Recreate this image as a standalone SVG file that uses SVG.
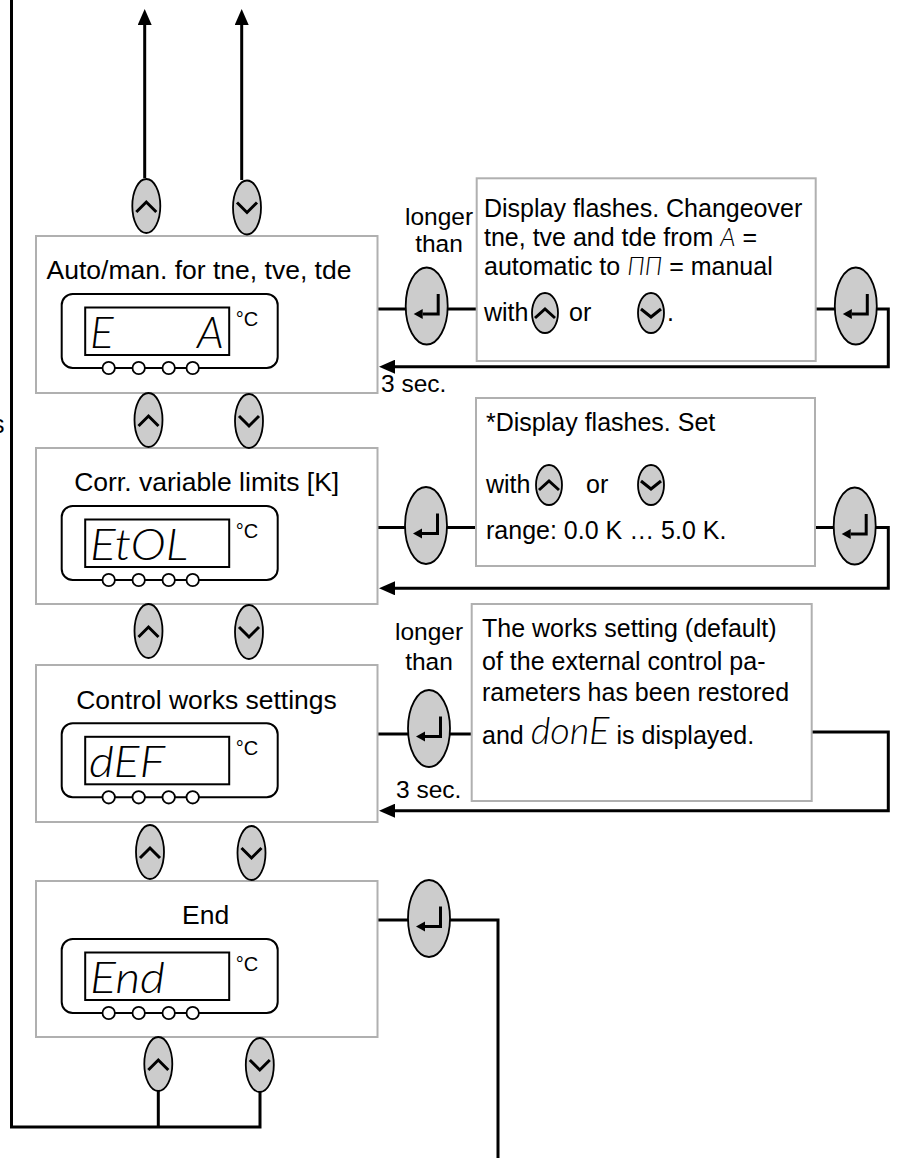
<svg xmlns="http://www.w3.org/2000/svg" width="922" height="1158" viewBox="0 0 922 1158">
<style>
.box{fill:#fff;stroke:#b0b0b0;stroke-width:2}
.btn{fill:#cccccc;stroke:#000;stroke-width:1.8}
.ico{fill:none;stroke:#000;stroke-width:3}
.conn{fill:none;stroke:#000;stroke-width:3}
.title{font-family:"Liberation Sans",Arial,sans-serif;font-size:26.5px;text-anchor:middle;fill:#000}
.body{font-family:"Liberation Sans",Arial,sans-serif;font-size:25px;fill:#000}
.lab{font-size:24.5px}
.mid{text-anchor:middle}
.seg{font-family:Lato,"DejaVu Sans",sans-serif;font-style:italic;font-weight:300}
.big{font-size:44px}
.donE{font-size:38px}
.degc{font-family:"Liberation Sans",Arial,sans-serif;font-size:20px}
</style>
<defs>
<marker id="arr" viewBox="0 0 16 14" refX="6" refY="7" markerWidth="16" markerHeight="14" markerUnits="userSpaceOnUse" orient="auto">
<path d="M0,0 L16,7 L0,14 z" fill="#000"/>
</marker>
<g id="up">
<ellipse cx="0" cy="0" rx="14" ry="27" class="btn"/>
<path d="M-10,6 L0,-4 L10,6" class="ico"/>
</g>
<g id="dn">
<ellipse cx="0" cy="0" rx="14" ry="27" class="btn"/>
<path d="M-10,-5 L0,5 L10,-5" class="ico"/>
</g>
<g id="ups">
<ellipse cx="0" cy="0" rx="13" ry="20" class="btn"/>
<path d="M-10,5 L0,-4 L10,5" class="ico"/>
</g>
<g id="dns">
<ellipse cx="0" cy="0" rx="13" ry="20" class="btn"/>
<path d="M-10,-4 L0,4 L10,-4" class="ico"/>
</g>
<g id="ent">
<ellipse cx="0" cy="0" rx="21" ry="38.5" class="btn"/>
<path d="M11.5,-12 V8 H-4" class="ico"/>
<path d="M-13,8 L-4,3 L-4,13 z" fill="#000"/>
</g>
<g id="disp">
<rect x="0" y="0" width="216" height="74" rx="11" fill="none" stroke="#000" stroke-width="2"/>
<rect x="23.5" y="13.5" width="144" height="47.5" fill="none" stroke="#000" stroke-width="2"/>
<text x="174" y="32" class="degc">°C</text>
<circle cx="47" cy="74" r="6.2" fill="#fff" stroke="#000" stroke-width="1.8"/>
<circle cx="77" cy="74" r="6.2" fill="#fff" stroke="#000" stroke-width="1.8"/>
<circle cx="107" cy="74" r="6.2" fill="#fff" stroke="#000" stroke-width="1.8"/>
<circle cx="131" cy="74" r="6.2" fill="#fff" stroke="#000" stroke-width="1.8"/>
</g>
</defs>
<rect width="922" height="1158" fill="#fff"/>

<g id="connectors">
<path class="conn" d="M11.5,0 V1127 H260 V1092"/>
<path class="conn" d="M158.3,1091 V1127"/>
<path class="conn" d="M144.7,178 V19" marker-end="url(#arr)"/>
<path class="conn" d="M241.7,180 V19" marker-end="url(#arr)"/>
<path class="conn" d="M377.5,309 H406"/>
<path class="conn" d="M447.5,309 H476.7"/>
<path class="conn" d="M815.7,309 H835"/>
<path class="conn" d="M876.5,309 H888.3 V366.7 H389" marker-end="url(#arr)"/>
<path class="conn" d="M377.5,527.5 H405"/>
<path class="conn" d="M447,527.5 H476"/>
<path class="conn" d="M815,527.5 H834"/>
<path class="conn" d="M875.5,527.5 H888.3 V588.3 H389" marker-end="url(#arr)"/>
<path class="conn" d="M377.5,734 H408"/>
<path class="conn" d="M450,734 H471.7"/>
<path class="conn" d="M811.7,732 H888.3 V810.7 H389" marker-end="url(#arr)"/>
<path class="conn" d="M377.5,920 H408"/>
<path class="conn" d="M450,920 H498 V1158"/>
</g>

<text class="body" x="-8" y="433">s</text>

<g id="box1">
<rect class="box" x="36" y="236" width="341.5" height="157"/>
<text class="title" x="199" y="279">Auto/man. for tne, tve, tde</text>
<use href="#disp" x="61.7" y="294"/>
<text class="seg big" y="347.5"><tspan x="90">E</tspan><tspan x="197">A</tspan></text>
</g>
<g id="box2">
<rect class="box" x="36" y="448" width="341.5" height="156"/>
<text class="title" x="206.7" y="490.5">Corr. variable limits [K]</text>
<use href="#disp" x="61.7" y="506"/>
<text class="seg big" x="90" y="559.5" textLength="98" lengthAdjust="spacingAndGlyphs">EtOL</text>
</g>
<g id="box3">
<rect class="box" x="36" y="665" width="341.5" height="157"/>
<text class="title" x="206.5" y="708.5">Control works settings</text>
<use href="#disp" x="61.7" y="723.3"/>
<text class="seg big" x="89" y="776.5" textLength="76" lengthAdjust="spacingAndGlyphs">dEF</text>
</g>
<g id="box4">
<rect class="box" x="36" y="881" width="341.5" height="156"/>
<text class="title" x="205.7" y="923.5">End</text>
<use href="#disp" x="61.7" y="939"/>
<text class="seg big" x="90" y="992.5" textLength="75" lengthAdjust="spacingAndGlyphs">End</text>
</g>

<g id="btn-top-up"><use href="#up" x="146.3" y="206"/></g>
<g id="btn-top-dn"><use href="#dn" x="247" y="207.5"/></g>
<g id="btn-b1-up"><use href="#up" x="148.5" y="420"/></g>
<g id="btn-b1-dn"><use href="#dn" x="249" y="421"/></g>
<g id="btn-b2-up"><use href="#up" x="148.5" y="631"/></g>
<g id="btn-b2-dn"><use href="#dn" x="249" y="632"/></g>
<g id="btn-b3-up"><use href="#up" x="150" y="852"/></g>
<g id="btn-b3-dn"><use href="#dn" x="251.5" y="853"/></g>
<g id="btn-b4-up"><use href="#up" x="158.3" y="1064"/></g>
<g id="btn-b4-dn"><use href="#dn" x="259.8" y="1065"/></g>

<g id="ent1-l"><use href="#ent" x="426.7" y="306"/></g>
<g id="ent1-r"><use href="#ent" x="855.8" y="306"/></g>
<g id="ent2-l"><use href="#ent" x="426" y="525.5"/></g>
<g id="ent2-r"><use href="#ent" x="854.7" y="526"/></g>
<g id="ent3"><use href="#ent" x="429" y="728.5"/></g>
<g id="ent4"><use href="#ent" x="429" y="918.5"/></g>

<g id="label1">
<text class="body lab mid" x="439" y="225">longer</text>
<text class="body lab mid" x="439" y="252">than</text>
<text class="body lab" x="381" y="392">3 sec.</text>
</g>
<g id="label3">
<text class="body lab mid" x="429" y="640">longer</text>
<text class="body lab mid" x="429" y="670">than</text>
<text class="body lab" x="396" y="798">3 sec.</text>
</g>

<g id="info1">
<rect class="box" x="476.7" y="178.3" width="339" height="182.7"/>
<text class="body" x="484" y="217" font-size="25.5">Display flashes. Changeover</text>
<text class="body" x="484" y="246" font-size="25.5">tne, tve and tde from <tspan class="seg">A</tspan> =</text>
<text class="body" x="484" y="275" font-size="25.5">automatic to <tspan class="seg">ΠΠ</tspan> = manual</text>
<text class="body" x="484" y="321" font-size="25.5">with</text>
<use href="#ups" x="545" y="313"/>
<text class="body" x="569" y="321" font-size="25.5">or</text>
<use href="#dns" x="651" y="313"/>
<text class="body" x="667" y="321" font-size="25.5">.</text>
</g>
<g id="info2">
<rect class="box" x="476" y="398" width="339" height="168"/>
<text class="body" x="486" y="431">*Display flashes. Set</text>
<text class="body" x="486" y="493">with</text>
<use href="#ups" x="549" y="485"/>
<text class="body" x="586" y="493">or</text>
<use href="#dns" x="651" y="485"/>
<text class="body" x="486" y="539">range: 0.0 K … 5.0 K.</text>
</g>
<g id="info3">
<rect class="box" x="471.7" y="604" width="340" height="197"/>
<text class="body" x="482" y="637">The works setting (default)</text>
<text class="body" x="482" y="670">of the external control pa-</text>
<text class="body" x="482" y="701">rameters has been restored</text>
<text class="body" x="482" y="744">and <tspan class="seg donE">donE</tspan> is displayed.</text>
</g>
</svg>
